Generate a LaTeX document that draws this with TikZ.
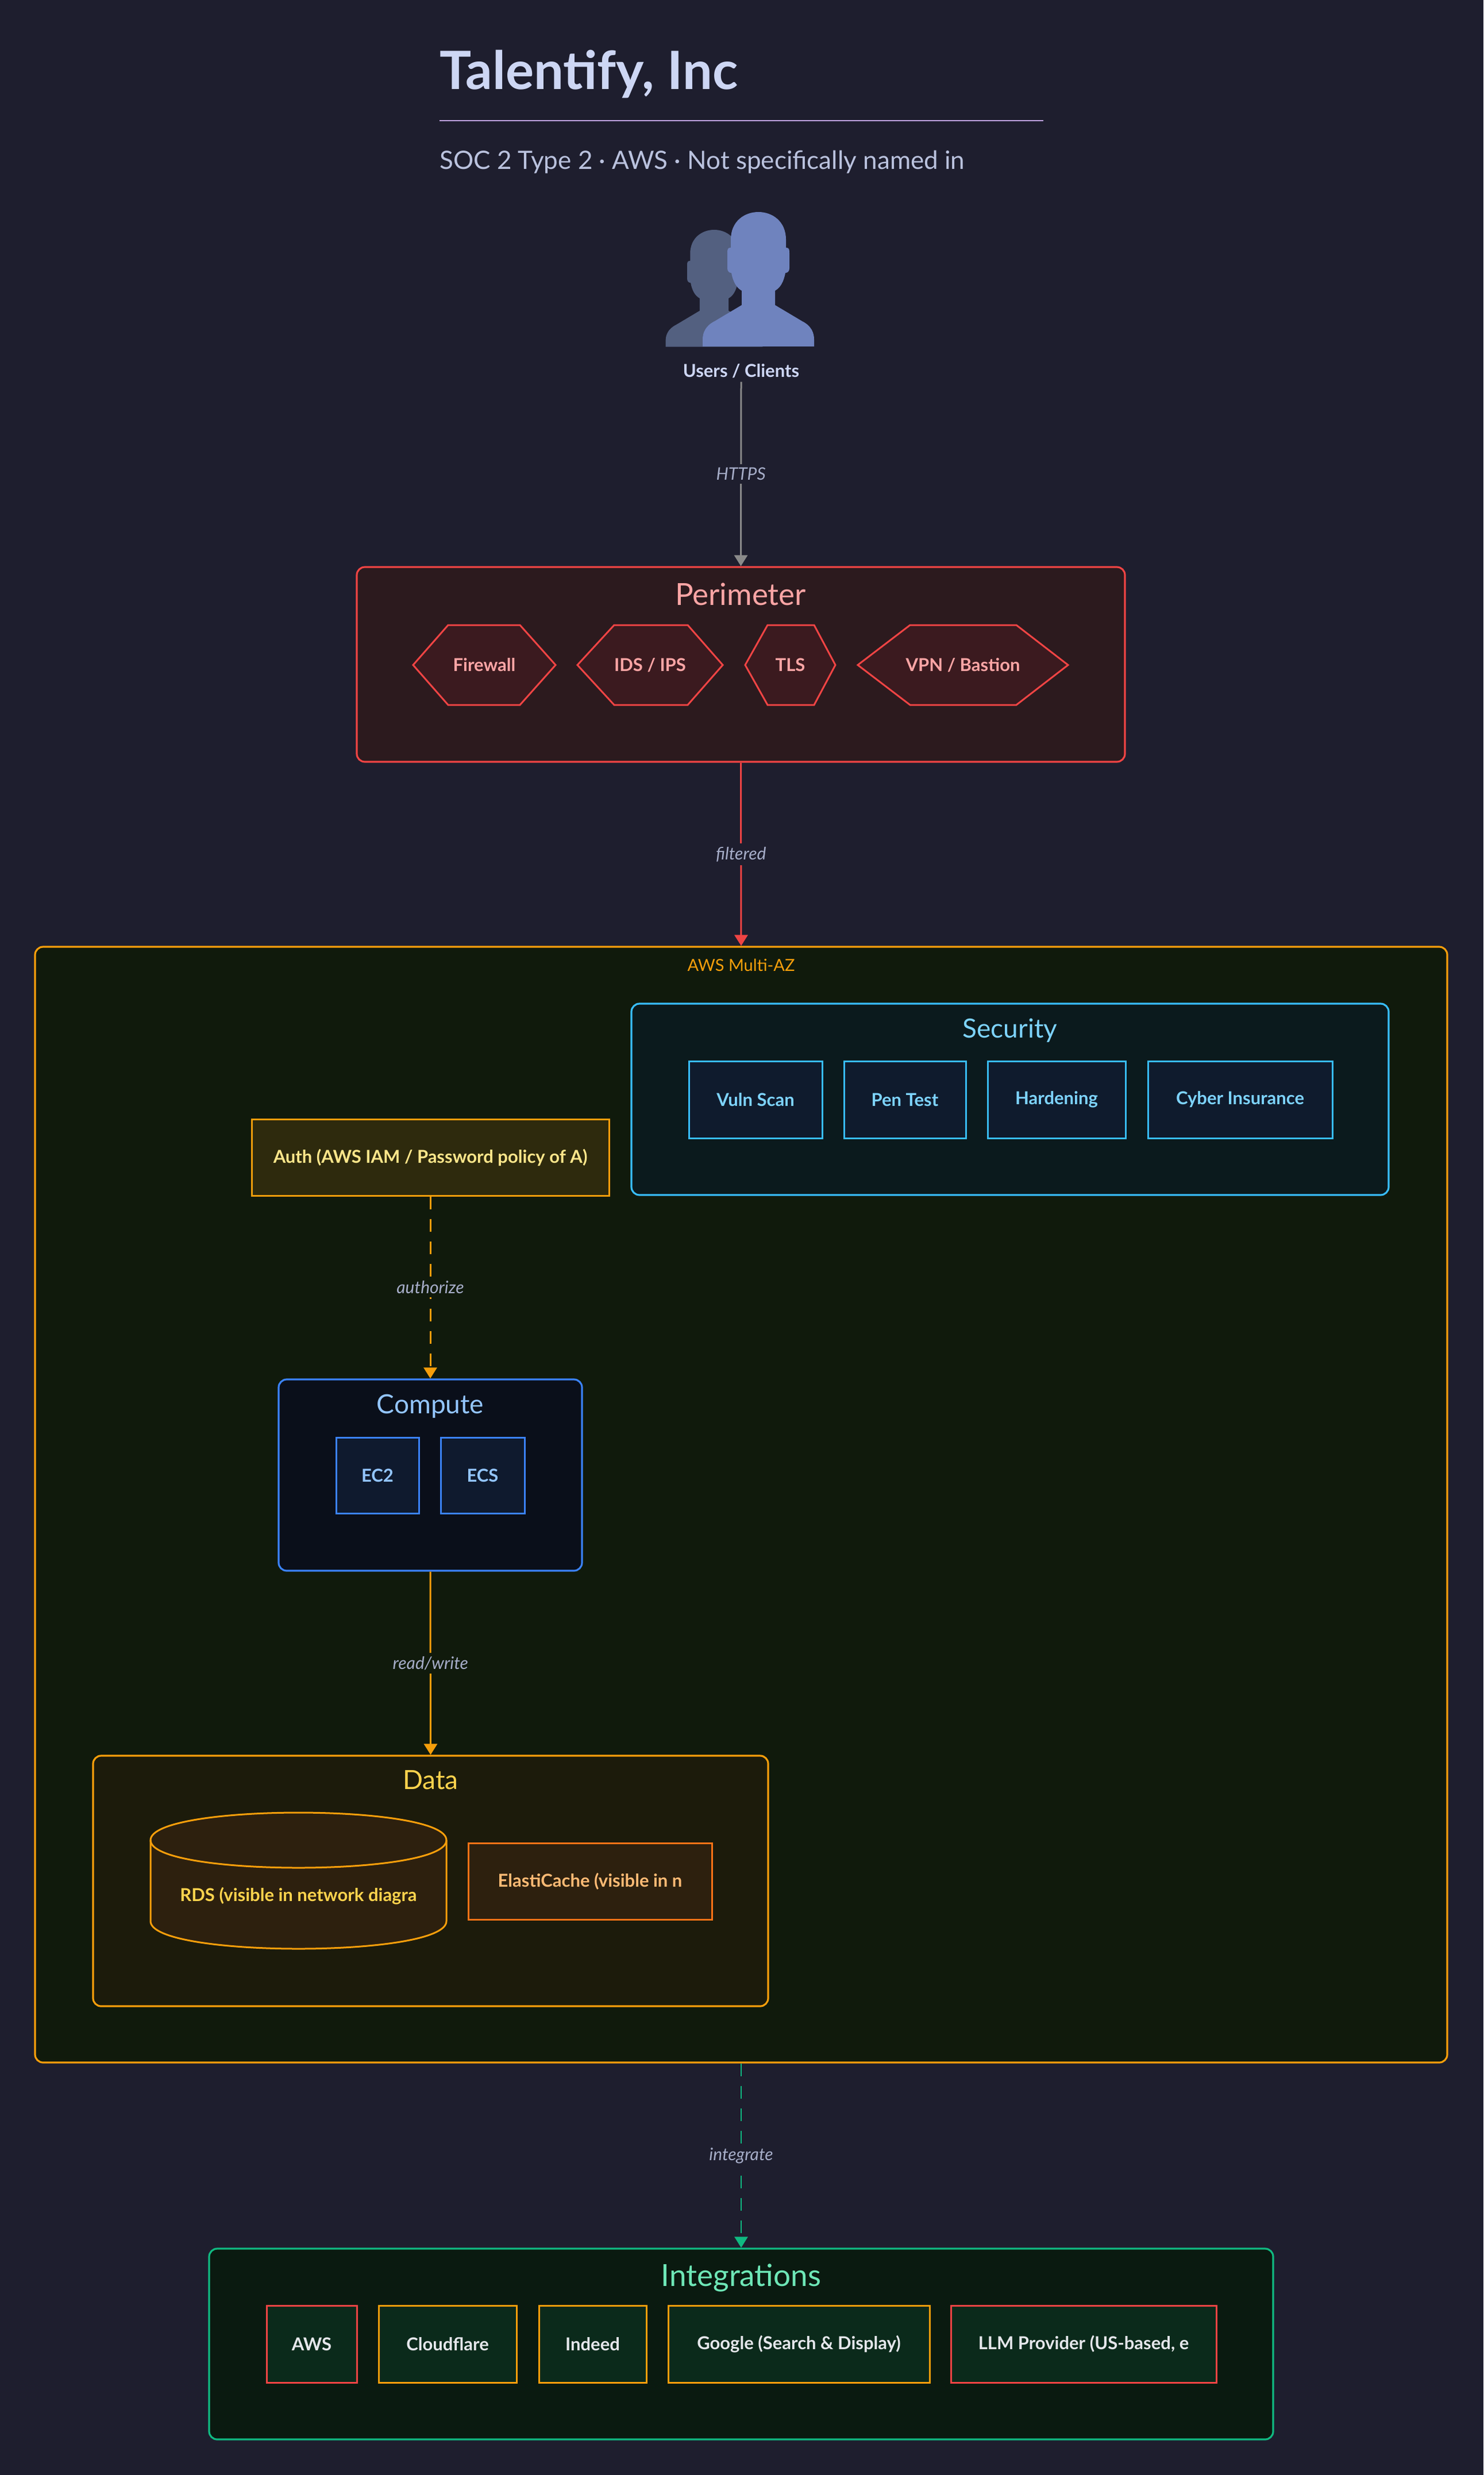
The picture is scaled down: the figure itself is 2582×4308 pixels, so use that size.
\documentclass[tikz,border=0pt]{standalone}
\usepackage{fontspec}
\setmainfont{Lato}
\usetikzlibrary{arrows.meta,fit}
\definecolor{bg}{HTML}{1E1E2E}
\definecolor{titlec}{HTML}{CDD6F4}
\definecolor{subc}{HTML}{BAC2DE}
\definecolor{rulec}{HTML}{C4A7F5}
\definecolor{labc}{HTML}{A6ADC8}
\definecolor{grayc}{HTML}{8A8A8A}
\definecolor{backp}{HTML}{536080}
\definecolor{frontp}{HTML}{6F83BE}
\definecolor{redc}{HTML}{EF4444}
\definecolor{perfill}{HTML}{2C1A1E}
\definecolor{hexfill}{HTML}{3B1A1F}
\definecolor{pertext}{HTML}{FCA5A5}
\definecolor{amber}{HTML}{F59E0B}
\definecolor{awsfill}{HTML}{101A0C}
\definecolor{sky}{HTML}{38BDF8}
\definecolor{secfill}{HTML}{0B1A1D}
\definecolor{secbox}{HTML}{0F1B2D}
\definecolor{sectext}{HTML}{7DD3FC}
\definecolor{authfill}{HTML}{2E2A0D}
\definecolor{authtext}{HTML}{FDE68A}
\definecolor{blue}{HTML}{3B82F6}
\definecolor{compfill}{HTML}{0A0F1A}
\definecolor{comptext}{HTML}{93C5FD}
\definecolor{compbox}{HTML}{0F1A2E}
\definecolor{datafill}{HTML}{1C1B0B}
\definecolor{datatext}{HTML}{FCD34D}
\definecolor{cylfill}{HTML}{2D200E}
\definecolor{orangec}{HTML}{F97316}
\definecolor{cachetext}{HTML}{FDBA74}
\definecolor{green}{HTML}{10B981}
\definecolor{intfill}{HTML}{0A1A10}
\definecolor{intbox}{HTML}{0B2A1B}
\definecolor{inttitle}{HTML}{6EE7B7}
\definecolor{inttext}{HTML}{E5E7EB}
\begin{document}
\begin{tikzpicture}[x=0.5pt,y=-0.5pt,
  grp/.style={draw, line width=1.6pt, rounded corners=7pt, inner sep=0pt},
  box/.style={draw, line width=1.5pt, inner sep=0pt},
  lbl/.style={font=\fontsize{15.5}{18}\selectfont\bfseries, inner sep=1pt},
  gtitle/.style={font=\fontsize{23}{27}\selectfont, anchor=base, inner sep=0pt},
  btitle/.style={gtitle, font=\fontsize{26.5}{30}\selectfont},
  hexs/.style={draw=redc, fill=hexfill, line width=1.5pt},
  hexlbl/.style={lbl, text=pertext},
  elab/.style={font=\fontsize{15}{18}\selectfont\itshape, text=labc, inner sep=3pt},
  conn/.style={line width=1.5pt, -{Triangle[length=9.5pt,width=11.5pt]}},
  dconn/.style={conn, dash pattern=on 11pt off 8.5pt}
]
\useasboundingbox (0,0) rectangle (2582,4308);
\fill[bg] (0,0) rectangle (2582,4308);

% title
\node[anchor=base west, inner sep=0pt, font=\fontsize{46}{52}\selectfont\bfseries, text=titlec] (title) at (765,156) {Talentify, Inc};
\draw[rulec, line width=1pt] (765,210) -- (1816,210);
\node[anchor=base west, inner sep=0pt, font=\fontsize{22}{26}\selectfont, text=subc] (sub) at (765,295) {SOC 2 Type 2 · AWS · Not specifically named in};

% users icon
\begin{scope}[shift={(1243,400)}, scale=0.87]
\fill[backp] (-48,48) .. controls (-48,-16) and (48,-16) .. (48,48)
 -- (48,62) .. controls (54,62) and (54,66) .. (54,72)
 -- (54,98) .. controls (54,104) and (50,106) .. (47,106)
 .. controls (44,122) and (38,132) .. (29,137)
 -- (29,162) -- (76,190) .. controls (92,198) and (97,210) .. (97,222)
 -- (97,234) -- (-97,234) -- (-97,222)
 .. controls (-97,210) and (-92,198) .. (-76,190)
 -- (-29,162) -- (-29,137)
 .. controls (-38,132) and (-44,122) .. (-47,106)
 .. controls (-50,106) and (-54,104) .. (-54,98)
 -- (-54,72) .. controls (-54,66) and (-54,62) .. (-48,62) -- cycle;
\end{scope}
\begin{scope}[shift={(1320,369)}]
\fill[frontp] (-48,48) .. controls (-48,-16) and (48,-16) .. (48,48)
 -- (48,62) .. controls (54,62) and (54,66) .. (54,72)
 -- (54,98) .. controls (54,104) and (50,106) .. (47,106)
 .. controls (44,122) and (38,132) .. (29,137)
 -- (29,162) -- (76,190) .. controls (92,198) and (97,210) .. (97,222)
 -- (97,234) -- (-97,234) -- (-97,222)
 .. controls (-97,210) and (-92,198) .. (-76,190)
 -- (-29,162) -- (-29,137)
 .. controls (-38,132) and (-44,122) .. (-47,106)
 .. controls (-50,106) and (-54,104) .. (-54,98)
 -- (-54,72) .. controls (-54,66) and (-54,62) .. (-48,62) -- cycle;
\end{scope}
\node[anchor=base, font=\fontsize{15.5}{18}\selectfont\bfseries, text=titlec] (users) at (1290,656) {Users / Clients};

% perimeter
\node[grp, draw=redc, fill=perfill, fit={(621,987) (1958,1326)}] (per) {};
\node[btitle, text=pertext] (pertitle) at (1289,1053) {Perimeter};
\filldraw[hexs] (719,1157.5) -- (780,1088) -- (905,1088) -- (967,1157.5) -- (905,1227) -- (780,1227) -- cycle;
\filldraw[hexs] (1005,1157.5) -- (1069,1088) -- (1197,1088) -- (1258,1157.5) -- (1197,1227) -- (1069,1227) -- cycle;
\filldraw[hexs] (1297,1157.5) -- (1336,1088) -- (1417,1088) -- (1454,1157.5) -- (1417,1227) -- (1336,1227) -- cycle;
\filldraw[hexs] (1493,1157.5) -- (1584,1088) -- (1769,1088) -- (1859,1157.5) -- (1769,1227) -- (1584,1227) -- cycle;
\node[hexlbl] (fw) at (843,1157.5) {Firewall};
\node[hexlbl] (ids) at (1131.5,1157.5) {IDS / IPS};
\node[hexlbl] (tls) at (1375.5,1157.5) {TLS};
\node[hexlbl] (vpn) at (1676,1157.5) {VPN / Bastion};

% AWS
\node[grp, draw=amber, fill=awsfill, fit={(61,1648) (2519,3590)}] (aws) {};
\node[anchor=base, inner sep=0pt, font=\fontsize{14.5}{17}\selectfont, text=amber] (awstitle) at (1290,1690) {AWS Multi-AZ};

% security
\node[grp, draw=sky, fill=secfill, fit={(1099,1747) (2417,2080)}] (sec) {};
\node[gtitle, text=sectext] (sectitle) at (1758,1806) {Security};
\node[box, draw=sky, fill=secbox, fit={(1199,1847) (1431,1981)}] (vuln) {};
\node[box, draw=sky, fill=secbox, fit={(1469,1847) (1681,1981)}] (pen) {};
\node[box, draw=sky, fill=secbox, fit={(1719,1847) (1959,1981)}] (hard) {};
\node[box, draw=sky, fill=secbox, fit={(1998,1847) (2319,1981)}] (cyber) {};
\node[lbl, text=sectext] (vulnl) at (vuln.center) {Vuln Scan};
\node[lbl, text=sectext] (penl) at (pen.center) {Pen Test};
\node[lbl, text=sectext] (hardl) at (hard.center) {Hardening};
\node[lbl, text=sectext] (cyberl) at (cyber.center) {Cyber Insurance};

% auth
\node[box, draw=amber, fill=authfill, fit={(438,1948) (1060,2081)}] (auth) {};
\node[lbl, text=authtext] (authl) at (auth.center) {Auth (AWS IAM / Password policy of A)};

% compute
\node[grp, draw=blue, fill=compfill, fit={(485,2401) (1013,2734)}] (comp) {};
\node[gtitle, text=comptext] (comptitle) at (749,2460) {Compute};
\node[box, draw=blue, fill=compbox, fit={(585,2502) (729,2634)}] (ec2) {};
\node[box, draw=blue, fill=compbox, fit={(767,2502) (913,2634)}] (ecs) {};
\node[lbl, text=comptext] (ec2l) at (ec2.center) {EC2};
\node[lbl, text=comptext] (ecsl) at (ecs.center) {ECS};

% data
\node[grp, draw=amber, fill=datafill, fit={(162,3056) (1337,3492)}] (data) {};
\node[gtitle, text=datatext] (datatitle) at (749.5,3114) {Data};
\filldraw[fill=cylfill, draw=amber, line width=1.5pt] (262,3203) -- (262,3344)
  .. controls (262,3408) and (777,3408) .. (777,3344) -- (777,3203)
  .. controls (777,3139) and (262,3139) .. (262,3203) -- cycle;
\draw[amber, line width=1.5pt] (262,3203) .. controls (262,3267) and (777,3267) .. (777,3203);
\node[anchor=base, lbl, text=datatext] (rds) at (519.5,3309) {RDS (visible in network diagra};
\node[box, draw=orangec, fill=cylfill, fit={(815,3208) (1239,3341)}] (cache) {};
\node[lbl, text=cachetext] (cachel) at (cache.center) {ElastiCache (visible in n};

% integrations
\node[grp, draw=green, fill=intfill, fit={(364,3914) (2216,4246)}] (int) {};
\node[btitle, text=inttitle] (inttitle) at (1290,3979) {Integrations};
\node[box, draw=redc, fill=intbox, fit={(464,4013) (621,4147)}] (iaws) {};
\node[box, draw=amber, fill=intbox, fit={(659,4013) (899,4147)}] (icf) {};
\node[box, draw=amber, fill=intbox, fit={(938,4013) (1125,4147)}] (iind) {};
\node[box, draw=amber, fill=intbox, fit={(1163,4013) (1618,4147)}] (igoo) {};
\node[box, draw=redc, fill=intbox, fit={(1655,4013) (2117,4147)}] (illm) {};
\node[lbl, text=inttext] (iawsl) at (iaws.center) {AWS};
\node[lbl, text=inttext] (icfl) at (icf.center) {Cloudflare};
\node[lbl, text=inttext] (iindl) at (iind.center) {Indeed};
\node[lbl, text=inttext] (igool) at (igoo.center) {Google (Search \& Display)};
\node[lbl, text=inttext] (illml) at (illm.center) {LLM Provider (US-based, e};

% connectors
\draw[conn, grayc] (users.south) -- node[elab, fill=bg] {HTTPS} (per.north);
\draw[conn, redc] (per.south) -- node[elab, fill=bg] {filtered} (aws.north);
\draw[dconn, amber] (auth.south) -- node[elab, fill=awsfill] {authorize} (comp.north);
\draw[conn, amber] (comp.south) -- node[elab, fill=awsfill] {read/write} (data.north);
\draw[dconn, green, line width=1.2pt] (aws.south) -- node[elab, fill=bg] {integrate} (int.north);
\end{tikzpicture}
\end{document}
